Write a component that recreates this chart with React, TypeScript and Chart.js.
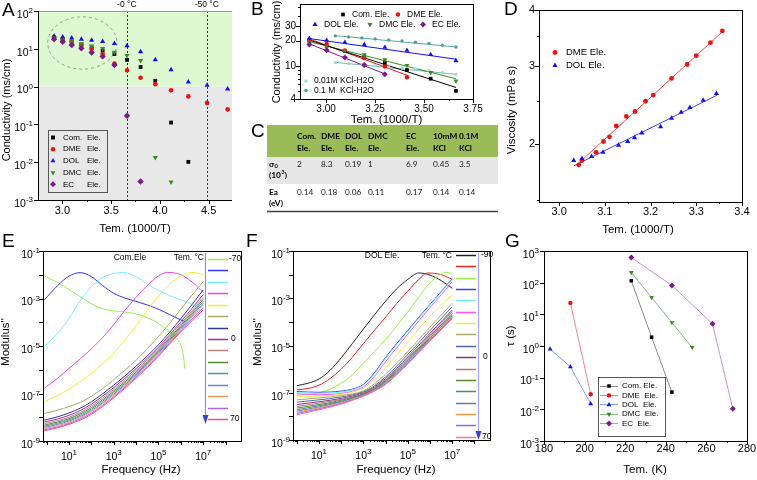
import React, { useEffect, useRef } from "react";
import { Chart, registerables } from "chart.js";

Chart.register(...registerables);

const W = 757;
const H = 480;
const SANS = '"Liberation Sans", Arial, Helvetica, sans-serif';
const TFONT = 'Lato, "Open Sans", "Liberation Sans", sans-serif';

const COL_COM = "#000000";
const COL_DME = "#ee1111";
const COL_DOL = "#1111ee";
const COL_DMC = "#3d8a22";
const COL_EC = "#7a1a8a";

// ---------------- Panel A ----------------
const A_X = [2.915, 3.003, 3.096, 3.195, 3.3, 3.413, 3.534, 3.663, 3.802, 3.953, 4.115, 4.292, 4.484, 4.695];
const A_COM = [20.0, 17.5, 15.2, 12.8, 10.8, 9.0, 7.3, 5.1, 3.3, 1.42, 0.112, 0.0102, null, null];
const A_DME = [20.5, 18.2, 15.5, 12.6, 9.9, 7.3, 4.1, 2.7, 1.72, 1.15, 0.8, 0.55, 0.37, 0.25];
const A_DOL = [21.5, 20.5, 19.3, 18.0, 16.8, 15.5, 13.9, 12.0, 8.4, 5.1, 2.8, 1.33, 1.08, 0.87];
const A_DMC = [19.3, 17.2, 15.3, 13.6, 11.8, 10.2, 8.1, 6.6, 4.9, 0.0133, 0.003, null, null, null];
const A_EC = [18.0, 15.3, 12.6, 10.3, 8.0, 6.3, 3.7, 0.17, 0.0031, null, null, null, null, null];
const A_MARK_LINES = [3.661, 4.481];
const A_MARK_TEXT = ["-0 \u00B0C", "-50 \u00B0C"];
const A_X_TICKS = [3.0, 3.5, 4.0, 4.5];
const A_Y_EXP = [-3, -2, -1, 0, 1, 2];

// ---------------- Panel B ----------------
const B_X = [2.915, 3.003, 3.096, 3.195, 3.3, 3.413, 3.534, 3.663];
const B_COM = [20.0, 17.4, 15.1, 12.6, 10.8, 8.9, 7.0, 5.0];
const B_DME = [20.5, 18.3, 15.3, 12.4, 9.8, 7.3, null, null];
const B_DOL = [21.3, 20.2, 19.0, 18.0, 16.6, 15.3, 13.6, 11.5];
const B_DMC = [19.2, 17.0, 15.3, 13.6, 11.8, 10.1, 8.3, 6.6];
const B_EC = [18.0, 15.3, 12.6, 10.2, 7.9, null, null, null];
const B_KCL_X = [3.047, 3.115, 3.183, 3.251, 3.32, 3.388, 3.456, 3.525, 3.594, 3.663];
const B_KCL_01M = [22.8, 22.2, 21.6, 21.0, 20.4, 19.8, 19.2, 18.5, 17.6, 16.8];
const B_KCL_001M = [10.9, 10.6, 10.3, 10.0, 9.7, 9.4, 9.1, 8.7, 8.3, 7.9];
const B_FIT_COM = [[2.915, 20.3], [3.663, 5.5]];
const B_FIT_DME = [[2.915, 21.0], [3.42, 7.6]];
const B_FIT_DOL = [[2.915, 21.2], [3.663, 12.0]];
const B_FIT_DMC = [[2.915, 19.5], [3.663, 7.0]];
const B_FIT_EC = [[2.915, 18.3], [3.3, 8.0]];
const B_FIT_01M = [[3.047, 23.0], [3.663, 16.8]];
const B_FIT_001M = [[3.047, 11.0], [3.663, 7.9]];
const B_X_TICKS = [3.0, 3.25, 3.5, 3.75];
const B_Y_TICKS = [4, 10, 20, 30];

// ---------------- Panel C (table) ----------------
const C_HEAD1 = ["Com.", "DME", "DOL", "DMC", "EC", "10mM", "0.1M"];
const C_HEAD2 = ["Ele.", "Ele.", "Ele.", "Ele.", "Ele.", "KCl", "KCl"];
const C_SIGMA0 = ["2", "8.3", "0.19", "1", "6.9", "0.45", "3.5"];
const C_EA = ["0.14", "0.18", "0.06", "0.11", "0.17", "0.14", "0.14"];

// ---------------- Panel D ----------------
const D_DME_X = [3.043, 3.05, 3.081, 3.097, 3.11, 3.125, 3.147, 3.166, 3.189, 3.206, 3.246, 3.28, 3.3, 3.331, 3.357];
const D_DME_Y = [1.8, 1.84, 1.92, 2.03, 2.08, 2.2, 2.31, 2.37, 2.5, 2.58, 2.81, 3.02, 3.16, 3.38, 3.59];
const D_DOL_X = [3.032, 3.05, 3.071, 3.096, 3.13, 3.15, 3.165, 3.181, 3.222, 3.246, 3.267, 3.286, 3.315, 3.344];
const D_DOL_Y = [1.84, 1.86, 1.88, 1.92, 1.99, 2.03, 2.07, 2.12, 2.19, 2.29, 2.36, 2.42, 2.51, 2.6];
const D_FIT_DME = [[3.036, 1.79], [3.359, 3.59]];
const D_FIT_DOL = [[3.032, 1.79], [3.346, 2.58]];
const D_X_TICKS = [3.0, 3.1, 3.2, 3.3, 3.4];
const D_Y_TICKS = [2, 3, 4];

// ---------------- Panel E (log10 f, log10 M'') ----------------
const E_TEMPS = ["-70", "-60", "-50", "-40", "-30", "-20", "-10", "0", "10", "20", "30", "40", "50", "60", "70"];
const E_COLORS = ["#99ee55", "#3333ee", "#77eeff", "#ee44ee", "#eeee33", "#aaa866", "#333399", "#993399", "#bb8080", "#558833", "#449999", "#7777cc", "#ee9955", "#aa66ee", "#ff4499"];
const E_PEAK = [
  [[-0.1, -2.05], [0.5, -2.33], [1, -2.62], [1.5, -2.92], [2, -3.22], [2.5, -3.43], [3, -3.52], [3.5, -3.57], [4, -3.65], [4.5, -3.8], [5, -4.05], [5.5, -4.4], [5.8, -4.68], [6.0, -4.95], [6.1, -5.3], [6.18, -5.95]],
  [[-0.1, -3.06], [0.5, -2.45], [1, -2.06], [1.5, -1.91], [2, -2.08], [2.5, -2.45], [3, -2.78], [3.5, -2.98], [4, -3.12], [4.5, -3.27], [5, -3.45], [5.5, -3.68], [6, -3.9], [6.2, -3.98]],
  [[-0.1, -5.03], [0.5, -4.45], [1, -3.85], [1.5, -3.1], [2, -2.5], [2.5, -2.12], [3, -1.95], [3.4, -1.9], [4, -2.08], [4.5, -2.4], [5, -2.65], [5.5, -2.88], [6, -3.05], [6.5, -3.25], [6.9, -3.38]],
  [[-0.1, -6.78], [0.5, -6.35], [1, -5.95], [1.5, -5.55], [2, -5.12], [2.5, -4.65], [3, -4.1], [3.5, -3.5], [4, -2.95], [4.5, -2.45], [5, -2.05], [5.4, -1.9], [6, -2.0], [6.5, -2.3], [7, -2.75]],
  [[-0.1, -7.34], [0.5, -7.08], [1, -6.82], [1.5, -6.5], [2, -6.15], [2.5, -5.75], [3, -5.3], [3.5, -4.75], [4, -4.15], [4.5, -3.5], [5, -2.9], [5.5, -2.4], [6, -2.05], [6.55, -1.9], [7, -2.0]],
  [[-0.1, -7.84], [0.5, -7.7], [1, -7.55], [1.5, -7.38], [2, -7.12], [2.5, -6.8], [3, -6.42], [3.5, -6.02], [4, -5.6], [4.5, -5.12], [5, -4.6], [5.5, -4.05], [6, -3.45], [6.5, -2.86], [7, -2.29]],
];
const E_BUNDLE_F = [-0.1, 0.5, 1, 1.5, 2, 3, 4, 5, 6, 7];
const E_BUNDLE_M = [
  [-8.12, -7.98, -7.82, -7.62, -7.35, -6.65, -5.85, -4.95, -3.85, -2.64],
  [-8.2, -8.07, -7.92, -7.72, -7.45, -6.75, -5.95, -5.05, -3.98, -2.84],
  [-8.27, -8.14, -8.0, -7.8, -7.53, -6.83, -6.03, -5.12, -4.07, -2.95],
  [-8.33, -8.2, -8.06, -7.86, -7.6, -6.9, -6.1, -5.18, -4.14, -3.04],
  [-8.38, -8.25, -8.11, -7.92, -7.66, -6.96, -6.16, -5.24, -4.2, -3.12],
  [-8.43, -8.3, -8.16, -7.97, -7.72, -7.02, -6.21, -5.29, -4.26, -3.2],
  [-8.48, -8.35, -8.21, -8.02, -7.77, -7.07, -6.26, -5.34, -4.31, -3.28],
  [-8.53, -8.4, -8.26, -8.07, -7.83, -7.13, -6.31, -5.39, -4.36, -3.38],
  [-8.57, -8.44, -8.3, -8.12, -7.88, -7.18, -6.36, -5.43, -4.4, -3.48],
];

// ---------------- Panel F ----------------
const F_TEMPS = ["-90", "-80", "-70", "-60", "-50", "-40", "-30", "-20", "-10", "0", "10", "20", "30", "40", "50", "60", "70"];
const F_COLORS = ["#222222", "#ee2222", "#99ee44", "#3344ee", "#77eeff", "#ff55ff", "#eeee44", "#aaa866", "#5566aa", "#883388", "#bb7777", "#558833", "#448888", "#6677bb", "#ee9944", "#9966ee", "#ff66bb"];
const F_PEAK = [
  [[0, -6.7], [0.5, -6.6], [1, -6.42], [1.5, -6.05], [2, -5.52], [2.5, -4.92], [3, -4.3], [3.5, -3.7], [4, -3.12], [4.5, -2.6], [5, -2.2], [5.5, -1.93], [6, -2.02], [6.5, -2.25], [7, -2.58]],
  [[0, -6.88], [0.5, -6.82], [1, -6.68], [1.5, -6.4], [2, -6.0], [2.5, -5.5], [3, -4.92], [3.5, -4.35], [4, -3.8], [4.5, -3.22], [5, -2.7], [5.5, -2.2], [5.9, -1.93], [6.5, -2.0], [7, -2.2]],
  [[0, -7.1], [0.5, -7.07], [1, -7.0], [1.5, -6.85], [2, -6.6], [2.5, -6.25], [3, -5.75], [3.5, -5.25], [4, -4.75], [4.5, -4.18], [5, -3.58], [5.5, -2.95], [6, -2.35], [6.5, -1.97], [6.75, -1.9], [7, -1.97]],
];
const F_RISE_F = [0, 0.5, 1, 1.5, 2, 2.5, 3, 3.5, 4, 4.5, 5, 5.5, 6, 6.5, 7];
const F_RISE_M = [
  [-6.95, -6.97, -6.98, -6.97, -6.93, -6.85, -6.65, -6.15, -5.5, -4.92, -4.36, -3.8, -3.26, -2.72, -2.17],
  [-6.99, -7.01, -7.02, -7.01, -6.97, -6.88, -6.68, -6.2, -5.55, -4.97, -4.4, -3.84, -3.3, -2.75, -2.2],
  [-7.05, -7.07, -7.08, -7.07, -7.03, -6.94, -6.75, -6.3, -5.68, -5.1, -4.52, -3.95, -3.4, -2.85, -2.3],
  [-7.15, -7.15, -7.14, -7.12, -7.07, -6.98, -6.8, -6.45, -5.95, -5.4, -4.85, -4.3, -3.75, -3.3, -2.86],
];
const F_BUNDLE_F = [0, 1, 2, 3, 3.5, 4, 5, 6, 7];
const F_BUNDLE_M = [
  [-7.3, -7.22, -7.12, -6.92, -6.62, -6.22, -5.25, -4.22, -3.21],
  [-7.4, -7.3, -7.18, -6.96, -6.7, -6.33, -5.38, -4.36, -3.36],
  [-7.5, -7.38, -7.24, -7.0, -6.75, -6.4, -5.48, -4.48, -3.5],
  [-7.58, -7.44, -7.28, -7.03, -6.79, -6.45, -5.55, -4.55, -3.57],
  [-7.65, -7.5, -7.32, -7.05, -6.82, -6.49, -5.6, -4.61, -3.64],
  [-7.72, -7.55, -7.36, -7.07, -6.85, -6.53, -5.65, -4.67, -3.71],
  [-7.78, -7.6, -7.39, -7.09, -6.87, -6.56, -5.69, -4.71, -3.75],
  [-7.83, -7.64, -7.42, -7.11, -6.89, -6.59, -5.72, -4.75, -3.79],
  [-7.88, -7.68, -7.45, -7.13, -6.91, -6.62, -5.75, -4.78, -3.82],
  [-7.93, -7.72, -7.48, -7.15, -6.93, -6.65, -5.78, -4.81, -3.86],
];

// ---------------- Panel G ----------------
const G_COM_T = [223, 233, 243];
const G_COM_TAU = [115, 1.9, 0.035];
const G_DME_T = [193, 203];
const G_DME_TAU = [23, 0.03];
const G_DOL_T = [183, 193, 203];
const G_DOL_TAU = [0.8, 0.22, 0.015];
const G_DMC_T = [223, 233, 243, 253];
const G_DMC_TAU = [210, 34, 5.5, 0.9];
const G_EC_T = [223, 243, 263, 273];
const G_EC_TAU = [620, 82, 5.0, 0.0105];
const G_X_TICKS = [180, 200, 220, 240, 260, 280];
const G_Y_EXP = [-3, -2, -1, 0, 1, 2, 3];

// ---------------- helpers ----------------
type Pt = { x: number; y: number };
const pts = (xs: number[], ys: (number | null)[]): Pt[] =>
  xs.map((x, i) => ({ x, y: ys[i] as number })).filter((p) => p.y !== null && p.y !== undefined);
const pairPts = (pairs: number[][]): Pt[] => pairs.map((p) => ({ x: p[0], y: p[1] }));
const expPairs = (pairs: number[][]): Pt[] => pairs.map((p) => ({ x: Math.pow(10, p[0]), y: Math.pow(10, p[1]) }));
const expGrid = (fs: number[], ms: number[]): Pt[] => fs.map((f, i) => ({ x: Math.pow(10, f), y: Math.pow(10, ms[i]) }));

function sc(data: Pt[], style: string, r: number, color: string, order: number, rot = 0) {
  return {
    data, showLine: false, pointStyle: style, pointRadius: r, pointRotation: rot,
    backgroundColor: color, borderColor: color, pointBorderWidth: 0, borderWidth: 0, order,
  };
}
function ln(data: Pt[], color: string, width: number, order: number, extra: any = {}) {
  return { data, showLine: true, borderColor: color, backgroundColor: color, borderWidth: width, pointRadius: 0, fill: false, order, ...extra };
}

function vline(ctx: any, x: number, y1: number, y2: number, color = "#000", w = 1) {
  const xx = Math.round(x) + 0.5;
  ctx.strokeStyle = color; ctx.lineWidth = w;
  ctx.beginPath(); ctx.moveTo(xx, y1); ctx.lineTo(xx, y2); ctx.stroke();
}
function hline(ctx: any, x1: number, x2: number, y: number, color = "#000", w = 1) {
  const yy = Math.round(y) + 0.5;
  ctx.strokeStyle = color; ctx.lineWidth = w;
  ctx.beginPath(); ctx.moveTo(x1, yy); ctx.lineTo(x2, yy); ctx.stroke();
}
function txt(ctx: any, s: string, x: number, y: number, size: number, align = "left", color = "#000", font = SANS, weight = "") {
  ctx.font = `${weight} ${size}px ${font}`;
  ctx.fillStyle = color; ctx.textAlign = align; ctx.textBaseline = "middle";
  ctx.fillText(s, x, y);
}
function vtxt(ctx: any, s: string, x: number, y: number, size: number) {
  ctx.save(); ctx.translate(x, y); ctx.rotate(-Math.PI / 2);
  txt(ctx, s, 0, 0, size, "center");
  ctx.restore();
}
function pow10(ctx: any, x: number, y: number, exp: number, size: number, align: string) {
  const e = String(exp);
  const fb = `${size}px ${SANS}`;
  const fs = `${Math.round(size * 0.72)}px ${SANS}`;
  ctx.font = fb; const wb = ctx.measureText("10").width;
  ctx.font = fs; const ws = ctx.measureText(e).width;
  const tot = wb + ws;
  const x0 = align === "right" ? x - tot : x - tot / 2;
  const base = y + size * 0.36;
  ctx.fillStyle = "#000"; ctx.textAlign = "left"; ctx.textBaseline = "alphabetic";
  ctx.font = fb; ctx.fillText("10", x0, base);
  ctx.font = fs; ctx.fillText(e, x0 + wb, base - size * 0.45);
}
function frame(ctx: any, a: any, color = "#000") {
  ctx.strokeStyle = color; ctx.lineWidth = 1;
  ctx.strokeRect(Math.round(a.left) + 0.5, Math.round(a.top) + 0.5, Math.round(a.right - a.left), Math.round(a.bottom - a.top));
}
function ticksX(c: any, majors: number[], minors: number[]) {
  const a = c.chartArea; const s = c.scales.x;
  majors.forEach((v) => vline(c.ctx, s.getPixelForValue(v), a.bottom, a.bottom + 4));
  minors.forEach((v) => vline(c.ctx, s.getPixelForValue(v), a.bottom, a.bottom + 2));
}
function ticksY(c: any, majors: number[], minors: number[]) {
  const a = c.chartArea; const s = c.scales.y;
  majors.forEach((v) => hline(c.ctx, a.left - 4, a.left, s.getPixelForValue(v)));
  minors.forEach((v) => hline(c.ctx, a.left - 2, a.left, s.getPixelForValue(v)));
}
function mark(ctx: any, style: string, x: number, y: number, r: number, color: string) {
  ctx.fillStyle = color; ctx.beginPath();
  if (style === "rect") { const s = r * Math.SQRT1_2; ctx.rect(x - s, y - s, 2 * s, 2 * s); }
  else if (style === "circle") { ctx.arc(x, y, r, 0, Math.PI * 2); }
  else if (style === "triangle" || style === "tridown") {
    let rad = style === "tridown" ? Math.PI : 0;
    ctx.moveTo(x + Math.sin(rad) * r, y - Math.cos(rad) * r);
    rad += (2 * Math.PI) / 3; ctx.lineTo(x + Math.sin(rad) * r, y - Math.cos(rad) * r);
    rad += (2 * Math.PI) / 3; ctx.lineTo(x + Math.sin(rad) * r, y - Math.cos(rad) * r);
    ctx.closePath();
  } else if (style === "rectRot") {
    ctx.moveTo(x, y - r); ctx.lineTo(x + r, y); ctx.lineTo(x, y + r); ctx.lineTo(x - r, y); ctx.closePath();
  }
  ctx.fill();
}
function letter(ctx: any, s: string, x: number, y: number) {
  txt(ctx, s, x, y, 19, "left");
}
function logMinors(e1: number, e2: number) {
  const out: number[] = [];
  for (let e = e1; e < e2; e++) for (let k = 2; k <= 9; k++) out.push(k * Math.pow(10, e));
  return out;
}

type Area = { L: number; T: number; R: number; B: number };
function cfg(area: Area, x: any, y: any, datasets: any[], before: any, after: any) {
  return {
    type: "scatter",
    data: { datasets },
    options: {
      responsive: false, animation: false, devicePixelRatio: 1, events: [],
      layout: { padding: { left: area.L, top: area.T, right: W - area.R, bottom: H - area.B } },
      plugins: { legend: { display: false }, tooltip: { enabled: false } },
      scales: { x: { display: false, bounds: "data", ...x }, y: { display: false, bounds: "data", ...y } },
    },
    plugins: [{
      id: "decor",
      beforeDatasetsDraw(c: any) { if (before) { c.ctx.save(); before(c); c.ctx.restore(); } },
      afterDraw(c: any) { c.ctx.save(); after(c); c.ctx.restore(); },
    }],
  };
}

// ---------------- Panel builders ----------------
function makeA() {
  const ds = [
    sc(pts(A_X, A_EC), "rectRot", 3.2, COL_EC, 0),
    sc(pts(A_X, A_DMC), "triangle", 3.0, COL_DMC, 1, 180),
    sc(pts(A_X, A_DOL), "triangle", 3.0, COL_DOL, 2),
    sc(pts(A_X, A_DME), "circle", 2.3, COL_DME, 3),
    sc(pts(A_X, A_COM), "rect", 2.7, COL_COM, 4),
  ];
  const before = (c: any) => {
    const { ctx, chartArea: a } = c; const y1 = c.scales.y.getPixelForValue(1);
    ctx.fillStyle = "#def8d2"; ctx.fillRect(a.left, a.top, a.right - a.left, y1 - a.top);
    ctx.fillStyle = "#e8e8e8"; ctx.fillRect(a.left, y1, a.right - a.left, a.bottom - y1);
    const X = (v: number) => c.scales.x.getPixelForValue(v);
    const Y = (v: number) => c.scales.y.getPixelForValue(v);
    const x1 = X(2.85), x2 = X(3.56), yt = Y(70), yb = Y(2.9);
    ctx.strokeStyle = "#999"; ctx.lineWidth = 1; ctx.setLineDash([3, 3]);
    ctx.beginPath(); ctx.ellipse((x1 + x2) / 2, (yt + yb) / 2, (x2 - x1) / 2, (yb - yt) / 2, 0, 0, Math.PI * 2); ctx.stroke();
    ctx.setLineDash([2, 2]);
    A_MARK_LINES.forEach((v) => vline(ctx, X(v), a.top, a.bottom, "#333"));
    ctx.setLineDash([]);
  };
  const after = (c: any) => {
    const { ctx, chartArea: a } = c;
    const X = (v: number) => c.scales.x.getPixelForValue(v);
    const Y = (v: number) => c.scales.y.getPixelForValue(v);
    hline(ctx, a.left, a.right, a.top, "#999");
    vline(ctx, a.left, a.top, a.bottom + 1);
    hline(ctx, a.left, a.right, a.bottom);
    ticksX(c, A_X_TICKS, [3.25, 3.75, 4.25]);
    ticksY(c, A_Y_EXP.map((e) => Math.pow(10, e)), []);
    A_X_TICKS.forEach((v) => txt(ctx, v.toFixed(1), X(v), a.bottom + 11, 11, "center"));
    A_Y_EXP.forEach((e) => pow10(ctx, a.left - 5, Y(Math.pow(10, e)) + 3, e, 10.5, "right"));
    A_MARK_LINES.forEach((v, i) => txt(ctx, A_MARK_TEXT[i], X(v), 5, 8.5, "center"));
    txt(ctx, "Tem. (1000/T)", (a.left + a.right) / 2, 229, 11.5, "center");
    vtxt(ctx, "Conductivity (ms/cm)", 7, 110, 11);
    letter(ctx, "A", 2, 11);
    ctx.strokeStyle = "#555"; ctx.lineWidth = 1; ctx.strokeRect(48.5, 130.5, 59, 62);
    const items = [["rect", COL_COM, "Com."], ["circle", COL_DME, "DME"], ["triangle", COL_DOL, "DOL"], ["tridown", COL_DMC, "DMC"], ["rectRot", COL_EC, "EC"]];
    items.forEach((it, i) => {
      const y = 137.5 + i * 11.7;
      mark(ctx, it[0], 53, y, it[0] === "circle" ? 2.3 : it[0] === "rectRot" ? 3.0 : 2.8, it[1]);
      txt(ctx, it[2], 63, y, 8);
      txt(ctx, "Ele.", 87, y, 8);
    });
  };
  return cfg({ L: 38, T: 11, R: 232, B: 200 }, { type: "linear", min: 2.75, max: 4.74 }, { type: "logarithmic", min: 1e-3, max: 1e2 }, ds, before, after);
}

function drawTable(ctx: any) {
  const left = 267, right = 498;
  ctx.fillStyle = "#9bbb59"; ctx.fillRect(left, 125, right - left, 32);
  ctx.fillStyle = "#e6e6e6"; ctx.fillRect(left, 157, right - left, 27);
  hline(ctx, left, right, 211, "#444", 1.5);
  const cols = [297, 321, 345, 368, 406, 433, 459];
  const fs = 8.3;
  cols.forEach((x, i) => {
    txt(ctx, C_HEAD1[i], x, 136, fs, "left", "#000", TFONT, "bold");
    txt(ctx, C_HEAD2[i], x, 148, fs, "left", "#000", TFONT, "bold");
    txt(ctx, C_SIGMA0[i], x, 164, fs, "left", "#222", TFONT);
    txt(ctx, C_EA[i], x, 192, fs, "left", "#222", TFONT);
  });
  txt(ctx, "\u03C3", 269, 164, fs, "left", "#000", TFONT, "bold");
  ctx.font = `bold ${fs}px ${TFONT}`;
  const ws = ctx.measureText("\u03C3").width;
  txt(ctx, "0", 269 + ws + 0.5, 166.5, 5.8, "left", "#000", TFONT, "bold");
  txt(ctx, "(10", 269, 175, fs, "left", "#000", TFONT, "bold");
  ctx.font = `bold ${fs}px ${TFONT}`;
  const w10 = ctx.measureText("(10").width;
  txt(ctx, "3", 269 + w10 + 0.3, 172, 5.8, "left", "#000", TFONT, "bold");
  txt(ctx, ")", 269 + w10 + 3.8, 175, fs, "left", "#000", TFONT, "bold");
  txt(ctx, "Ea", 269, 192, fs, "left", "#000", TFONT, "bold");
  txt(ctx, "(eV)", 269, 203, fs, "left", "#000", TFONT, "bold");
}

function makeB() {
  const ds = [
    sc(pts(B_X, B_EC), "rectRot", 3.0, COL_EC, 0),
    sc(pts(B_X, B_DMC), "triangle", 2.9, COL_DMC, 1, 180),
    sc(pts(B_X, B_DOL), "triangle", 2.9, COL_DOL, 2),
    sc(pts(B_X, B_DME), "circle", 2.2, COL_DME, 3),
    sc(pts(B_X, B_COM), "rect", 2.6, COL_COM, 4),
    sc(pts(B_KCL_X, B_KCL_01M), "circle", 1.7, "#4f9f9a", 5),
    sc(pts(B_KCL_X, B_KCL_001M), "rect", 2.0, "#9fd8d8", 6),
    ln(pairPts(B_FIT_COM), COL_COM, 1, 10),
    ln(pairPts(B_FIT_DME), COL_DME, 1, 10),
    ln(pairPts(B_FIT_DOL), COL_DOL, 1, 10),
    ln(pairPts(B_FIT_DMC), COL_DMC, 1, 10),
    ln(pairPts(B_FIT_EC), COL_EC, 1, 10),
    ln(pairPts(B_FIT_01M), "#5aa8a2", 1, 10),
    ln(pairPts(B_FIT_001M), "#6fbab6", 1, 10),
  ];
  const after = (c: any) => {
    const { ctx, chartArea: a } = c;
    const X = (v: number) => c.scales.x.getPixelForValue(v);
    const Y = (v: number) => c.scales.y.getPixelForValue(v);
    frame(ctx, a);
    ticksX(c, B_X_TICKS, [3.125, 3.375, 3.625]);
    ticksY(c, B_Y_TICKS, [5, 6, 7, 8, 9, 40, 50]);
    B_X_TICKS.forEach((v) => txt(ctx, v.toFixed(2), X(v), a.bottom + 10, 10, "center"));
    B_Y_TICKS.forEach((v) => txt(ctx, String(v), a.left - 4, Y(v), 10, "right"));
    txt(ctx, "Tem. (1000/T)", (a.left + a.right) / 2, 120, 11.5, "center");
    vtxt(ctx, "Conductivity (ms/cm)", 277, 52, 11);
    letter(ctx, "B", 251, 10);
    mark(ctx, "rect", 343, 14.5, 2.6, COL_COM); txt(ctx, "Com. Ele.", 352, 14.5, 8.5);
    mark(ctx, "circle", 398, 14.5, 2.2, COL_DME); txt(ctx, "DME Ele.", 407, 14.5, 8.5);
    mark(ctx, "triangle", 315, 24.5, 2.9, COL_DOL); txt(ctx, "DOL Ele.", 324, 24.5, 8.5);
    mark(ctx, "tridown", 370, 24.5, 2.9, COL_DMC); txt(ctx, "DMC Ele.", 379, 24.5, 8.5);
    mark(ctx, "rectRot", 423, 24.5, 3.0, COL_EC); txt(ctx, "EC Ele.", 432, 24.5, 8.5);
    mark(ctx, "rect", 306, 81, 2.0, "#9fd8d8"); txt(ctx, "0.01M KCl-H2O", 314, 81, 8.5);
    mark(ctx, "circle", 306, 90.5, 1.8, "#4f9f9a"); txt(ctx, "0.1 M  KCl-H2O", 314, 90.5, 8.5);
    letter(ctx, "C", 251, 132);
    drawTable(ctx);
  };
  return cfg({ L: 300, T: 3, R: 473, B: 99 }, { type: "linear", min: 2.867, max: 3.75 }, { type: "logarithmic", min: 4, max: 55 }, ds, null, after);
}

function makeD() {
  const ds = [
    sc(pts(D_DOL_X, D_DOL_Y), "triangle", 3.0, COL_DOL, 0),
    sc(pts(D_DME_X, D_DME_Y), "circle", 2.4, COL_DME, 1),
    ln(pairPts(D_FIT_DME), "#ee4444", 1, 10),
    ln(pairPts(D_FIT_DOL), "#4444ee", 1, 10),
  ];
  const after = (c: any) => {
    const { ctx, chartArea: a } = c;
    const X = (v: number) => c.scales.x.getPixelForValue(v);
    const Y = (v: number) => c.scales.y.getPixelForValue(v);
    frame(ctx, a);
    ticksX(c, D_X_TICKS, [3.05, 3.15, 3.25, 3.35]);
    ticksY(c, D_Y_TICKS, [1.5, 2.5, 3.5]);
    D_X_TICKS.forEach((v) => txt(ctx, v.toFixed(1), X(v), a.bottom + 10, 11, "center"));
    D_Y_TICKS.forEach((v) => txt(ctx, String(v), a.left - 4, Y(v), 11, "right"));
    txt(ctx, "Tem. (1000/T)", 638, 230, 11.5, "center");
    vtxt(ctx, "Viscosity (mPa s)", 512, 110, 11.5);
    letter(ctx, "D", 504, 10);
    mark(ctx, "circle", 555, 52.5, 2.4, COL_DME); txt(ctx, "DME Ele.", 566, 52.5, 9.5);
    mark(ctx, "triangle", 555, 65.5, 3.0, COL_DOL); txt(ctx, "DOL Ele.", 566, 65.5, 9.5);
  };
  return cfg({ L: 539, T: 10, R: 742, B: 202 }, { type: "linear", min: 2.956, max: 3.4 }, { type: "logarithmic", min: 1.486, max: 4 }, ds, null, after);
}

function modAxes(c: any) {
  const { ctx, chartArea: a } = c;
  const X = (v: number) => c.scales.x.getPixelForValue(v);
  const Y = (v: number) => c.scales.y.getPixelForValue(v);
  frame(ctx, a);
  const xMaj = [0, 1, 2, 3, 4, 5, 6, 7, 8].map((e) => Math.pow(10, e));
  const xMin = logMinors(-1, 8).filter((v) => v > c.scales.x.min && v < c.scales.x.max);
  ticksX(c, xMaj, xMin);
  ticksY(c, [-1, -2, -3, -4, -5, -6, -7, -8, -9].map((e) => Math.pow(10, e)), []);
  [1, 3, 5, 7].forEach((e) => pow10(ctx, X(Math.pow(10, e)), a.bottom + 15, e, 10.5, "center"));
  [-1, -3, -5, -7, -9].forEach((e) => pow10(ctx, a.left - 3, Y(Math.pow(10, e)) + 3, e, 10.5, "right"));
}

function makeE() {
  const ds: any[] = [];
  E_PEAK.forEach((c, i) => ds.push(ln(expPairs(c), E_COLORS[i], 1, 20 - i, { cubicInterpolationMode: "monotone" })));
  E_BUNDLE_M.forEach((m, j) => ds.push(ln(expGrid(E_BUNDLE_F, m), E_COLORS[6 + j], 1, 14 - j, { cubicInterpolationMode: "monotone" })));
  const after = (c: any) => {
    const { ctx } = c;
    modAxes(c);
    txt(ctx, "Frequency (Hz)", 141, 470, 11.5, "center");
    vtxt(ctx, "Modulus''", 6, 342, 11.5);
    letter(ctx, "E", 2, 242);
    txt(ctx, "Com.Ele", 130, 258, 8.5, "center");
    txt(ctx, "Tem. \u00B0C", 204, 258, 8.5, "right");
    vline(ctx, 205, 253, 418, "#8090f0", 1.2);
    ctx.fillStyle = "#3344cc"; ctx.beginPath(); ctx.moveTo(205.5, 424); ctx.lineTo(202.5, 415); ctx.lineTo(208.5, 415); ctx.closePath(); ctx.fill();
    E_TEMPS.forEach((t, i) => {
      const y = 259 + i * 11.43;
      hline(ctx, 208, 228, y, E_COLORS[i], 1.5);
    });
    txt(ctx, "-70", 229, 259, 8.5);
    txt(ctx, "0", 231, 259 + 7 * 11.43, 8.5);
    txt(ctx, "70", 230, 259 + 14 * 11.43, 8.5);
  };
  return cfg({ L: 43, T: 251, R: 241, B: 441 }, { type: "logarithmic", min: Math.pow(10, -0.16), max: Math.pow(10, 8.69) }, { type: "logarithmic", min: 1e-9, max: 1e-1 }, ds, null, after);
}

function makeF() {
  const ds: any[] = [];
  F_PEAK.forEach((c, i) => ds.push(ln(expPairs(c), F_COLORS[i], 1, 30 - i, { cubicInterpolationMode: "monotone" })));
  F_RISE_M.forEach((m, j) => ds.push(ln(expGrid(F_RISE_F, m), F_COLORS[3 + j], 1, 26 - j, { cubicInterpolationMode: "monotone" })));
  F_BUNDLE_M.forEach((m, j) => ds.push(ln(expGrid(F_BUNDLE_F, m), F_COLORS[7 + j], 1, 20 - j, { cubicInterpolationMode: "monotone" })));
  const after = (c: any) => {
    const { ctx } = c;
    modAxes(c);
    txt(ctx, "Frequency (Hz)", 396, 470, 11.5, "center");
    vtxt(ctx, "Modulus''", 258, 342, 11.5);
    letter(ctx, "F", 246, 242);
    txt(ctx, "DOL Ele.", 382, 256, 8.5, "center");
    txt(ctx, "Tem. \u00B0C", 452, 256, 8.5, "right");
    F_TEMPS.forEach((t, i) => {
      const y = 255 + i * 11.35;
      hline(ctx, 456, 476, y, F_COLORS[i], 1.5);
    });
    vline(ctx, 478, 253, 433, "#a0a8ff", 1.2);
    ctx.fillStyle = "#3344cc"; ctx.beginPath(); ctx.moveTo(478.5, 440); ctx.lineTo(475.5, 431); ctx.lineTo(481.5, 431); ctx.closePath(); ctx.fill();
    txt(ctx, "-90", 481, 255, 8.5);
    txt(ctx, "0", 483, 255 + 9 * 11.35, 8.5);
    txt(ctx, "70", 482, 255 + 16 * 11.35, 8.5);
  };
  return cfg({ L: 293, T: 251, R: 490, B: 440 }, { type: "logarithmic", min: Math.pow(10, -0.17), max: Math.pow(10, 8.7) }, { type: "logarithmic", min: 1e-9, max: 1e-1 }, ds, null, after);
}

function makeG() {
  const series = [
    { t: G_COM_T, v: G_COM_TAU, line: "#8a8a8a", col: COL_COM, st: "rect", r: 2.5, rot: 0, name: "Com. Ele." },
    { t: G_DME_T, v: G_DME_TAU, line: "#f08888", col: COL_DME, st: "circle", r: 2.2, rot: 0, name: "DME  Ele." },
    { t: G_DOL_T, v: G_DOL_TAU, line: "#8898ff", col: COL_DOL, st: "triangle", r: 2.8, rot: 0, name: "DOL  Ele." },
    { t: G_DMC_T, v: G_DMC_TAU, line: "#80c080", col: COL_DMC, st: "triangle", r: 2.8, rot: 180, name: "DMC  Ele." },
    { t: G_EC_T, v: G_EC_TAU, line: "#c890d8", col: COL_EC, st: "rectRot", r: 3.0, rot: 0, name: "EC  Ele." },
  ];
  const ds = series.map((s, i) => ({
    data: pts(s.t, s.v), showLine: true, borderColor: s.line, borderWidth: 1,
    pointStyle: s.st, pointRadius: s.r, pointRotation: s.rot, pointBackgroundColor: s.col, pointBorderWidth: 0, order: 5 - i,
  }));
  const after = (c: any) => {
    const { ctx, chartArea: a } = c;
    const X = (v: number) => c.scales.x.getPixelForValue(v);
    const Y = (v: number) => c.scales.y.getPixelForValue(v);
    frame(ctx, a);
    ticksX(c, G_X_TICKS, [190, 210, 230, 250, 270]);
    ticksY(c, G_Y_EXP.map((e) => Math.pow(10, e)), []);
    G_X_TICKS.forEach((v) => txt(ctx, String(v), X(v), a.bottom + 8, 11, "center"));
    G_Y_EXP.forEach((e) => pow10(ctx, a.left - 5, Y(Math.pow(10, e)) + 3, e, 10.5, "right"));
    txt(ctx, "Tem. (K)", 645, 470, 11.5, "center");
    vtxt(ctx, "\u03C4 (s)", 511, 336, 11.5);
    letter(ctx, "G", 505, 242);
    ctx.fillStyle = "#fff"; ctx.fillRect(598, 377, 68, 60);
    ctx.strokeStyle = "#555"; ctx.lineWidth = 1; ctx.strokeRect(598.5, 377.5, 67, 59);
    series.forEach((s, i) => {
      const y = 386 + i * 9.4;
      hline(ctx, 600, 618, y - 0.5, s.line, 1);
      mark(ctx, s.rot === 180 ? "tridown" : s.st, 609, y, s.r, s.col);
      txt(ctx, s.name, 622, y, 8);
    });
  };
  return cfg({ L: 544, T: 251, R: 747, B: 441 }, { type: "linear", min: 180, max: 280 }, { type: "logarithmic", min: 1e-3, max: 1e3 }, ds, null, after);
}

function Panel({ make }: { make: () => any }) {
  const ref = useRef<HTMLCanvasElement>(null);
  useEffect(() => {
    const chart = new Chart(ref.current as HTMLCanvasElement, make());
    return () => chart.destroy();
  }, []);
  return (
    <canvas
      ref={ref}
      width={W}
      height={H}
      style={{ position: "absolute", left: 0, top: 0, width: W, height: H }}
    />
  );
}

export default function App() {
  return (
    <div style={{ position: "absolute", left: 0, top: 0, width: W, height: H, background: "#fff", overflow: "hidden" }}>
      <Panel make={makeA} />
      <Panel make={makeB} />
      <Panel make={makeD} />
      <Panel make={makeE} />
      <Panel make={makeF} />
      <Panel make={makeG} />
    </div>
  );
}
